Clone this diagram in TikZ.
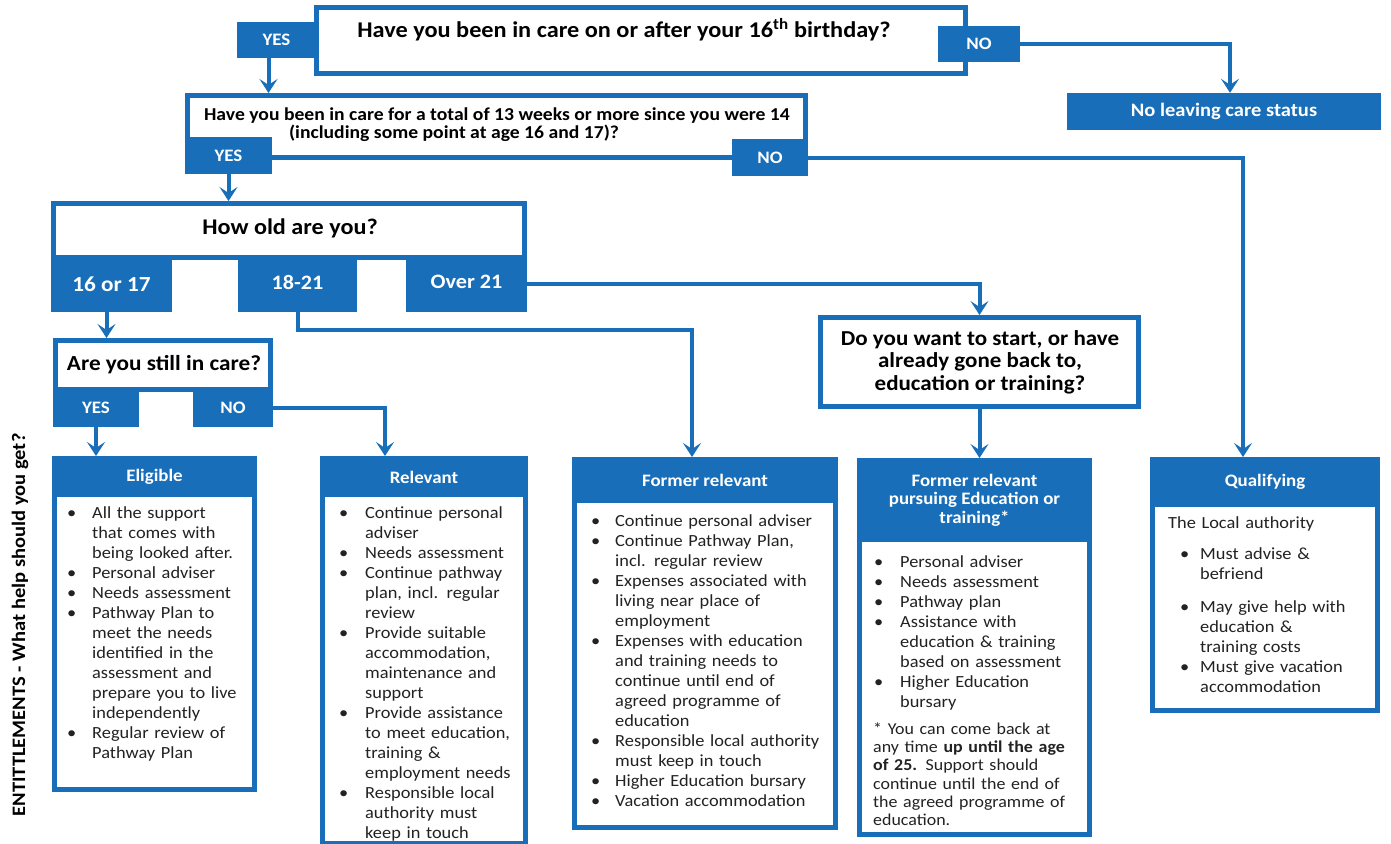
\documentclass[tikz,border=0pt]{standalone}
\usepackage{fontspec}
\setmainfont{Carlito}[FakeStretch=1.08]
\usetikzlibrary{arrows.meta,calc,fit}
\definecolor{cblue}{RGB}{24,110,184}
\definecolor{btxt}{RGB}{34,34,34}
\newlength\bulx
\newlength\txtx
\newcommand\itm[1]{\par\noindent\hangindent=\txtx\hangafter=1\makebox[\txtx][l]{\hspace{\bulx}\textbullet}\strut#1}
\tikzset{
  qbox/.style={draw=cblue, line width=5pt, fill=white, inner sep=0pt, rectangle},
  tab/.style={fill=cblue, text=white, inner sep=0pt, rectangle, font=\fontsize{17.5}{20}\selectfont\bfseries},
  agetab/.style={tab, font=\fontsize{20.5}{24}\selectfont\bfseries},
  hdr/.style={fill=cblue, text=white, inner sep=0pt, rectangle, align=center, font=\fontsize{17.5}{18.5}\selectfont\bfseries},
  conn/.style={draw=cblue, line width=4pt, -{Stealth[length=14pt,width=18pt,inset=6pt]}},
  qtext/.style={inner sep=0pt, align=center, text=black},
  body/.style={anchor=north west, inner sep=0pt, text width=260pt, align=left, text=btxt, font=\fontsize{17}{20}\selectfont},
}
\begin{document}
\begin{tikzpicture}[x=1pt,y=-1pt]
\useasboundingbox (0,0) rectangle (1391,843);
\fill[white] (0,0) rectangle (1391,843);

% ---- question 1
\node[qbox, fit={(316.5,7.5)(965.5,73.5)}] (q1) {};
\node[qtext, font=\fontsize{22.5}{26}\selectfont\bfseries] (t1) at (624,30) {Have you been in care on or after your 16\textsuperscript{th} birthday?};
\node[tab, minimum width=79pt, minimum height=36pt] (y1) at (276.5,40) {YES};
\node[tab, minimum width=82pt, minimum height=36pt] (n1) at (979,44) {NO};
\node[tab, font=\fontsize{19}{22}\selectfont\bfseries, minimum width=314pt, minimum height=37pt] (nl) at (1224,111.5) {No leaving care status};

% ---- question 2
\node[qbox, fit={(187.5,95.5)(805.5,157.5)}] (q2) {};
\node[qtext, align=left, font=\fontsize{18.2}{18}\selectfont\bfseries] (t2) at (497,125) {Have you been in care for a total of 13 weeks or more since you were 14\\\hspace*{85pt}(including some point at age 16 and 17)?};
\node[tab, minimum width=87pt, minimum height=37pt] (y2) at (228.5,155.5) {YES};
\node[tab, minimum width=76pt, minimum height=37pt] (n2) at (770,157.5) {NO};

% ---- question 3
\node[qbox, fit={(53.5,203.5)(524.5,257.5)}] (q3) {};
\node[qtext, font=\fontsize{22.4}{26}\selectfont\bfseries] (t3) at (290,228) {How old are you?};
\node[agetab, font=\fontsize{21.5}{24}\selectfont\bfseries, minimum width=121pt, minimum height=56pt] (a1) at (111.5,284) {16 or 17};
\node[agetab, minimum width=119pt, minimum height=56pt] (a2) at (297.5,284) {\raisebox{4pt}{18-21}};
\node[agetab, minimum width=121pt, minimum height=56pt] (a3) at (466.5,284) {\raisebox{4pt}{Over 21}};

% ---- question 4
\node[qbox, fit={(820.5,317.5)(1138.5,406.5)}] (q4) {};
\node[qtext, font=\fontsize{21.3}{22.5}\selectfont\bfseries] (t4) at (980,362) {Do you want to start, or have\\already gone back to,\\education or training?};

% ---- question 5
\node[qbox, fit={(55.5,340.5)(270.5,389.5)}] (q5) {};
\node[qtext, font=\fontsize{21.5}{24}\selectfont\bfseries] (t5) at (164,365) {Are you still in care?};
\node[tab, minimum width=86pt, minimum height=38pt] (b1) at (96,408) {YES};
\node[tab, minimum width=80pt, minimum height=38pt] (b2) at (233,408) {NO};

% ---- entitlement boxes
\node[qbox, fit={(54.5,458.5)(254.5,789.5)}] (p1) {};
\node[hdr, minimum width=205pt, minimum height=40pt] (h1) at (154.5,477) {Eligible};
\node[qbox, fit={(322.5,458.5)(525.5,843.5)}] (p2) {};
\node[hdr, minimum width=208pt, minimum height=40pt] (h2) at (424,477) {Relevant};
\node[qbox, fit={(574.5,459.5)(835.5,827.5)}] (p3) {};
\node[hdr, minimum width=266pt, minimum height=46pt] (h3) at (705,480) {Former relevant};
\node[qbox, fit={(859.5,460.5)(1089.5,834.5)}] (p4) {};
\node[hdr, minimum width=235pt, minimum height=84pt] (h4) at (974.5,500) {Former relevant\\pursuing Education or\\training*};
\node[qbox, fit={(1152.5,459.5)(1377.5,710.5)}] (p5) {};
\node[hdr, minimum width=230pt, minimum height=50pt] (h5) at (1265,482) {\raisebox{4pt}{Qualifying}};

\node[body] (e1) at (62,498) {\setlength\bulx{5pt}\setlength\txtx{30pt}%
\itm{All the support\newline that comes with\newline being looked after.}%
\itm{Personal adviser}%
\itm{Needs assessment}%
\itm{Pathway Plan to\newline meet the needs\newline identified in the\newline assessment and\newline prepare you to live\newline independently}%
\itm{Regular review of\newline Pathway Plan}\par};

\node[body] (e2) at (330,498) {\setlength\bulx{9pt}\setlength\txtx{35pt}%
\itm{Continue personal\newline adviser}%
\itm{Needs assessment}%
\itm{Continue pathway\newline plan, incl. regular\newline review}%
\itm{Provide suitable\newline accommodation,\newline maintenance and\newline support}%
\itm{Provide assistance\newline to meet education,\newline training \&\newline employment needs}%
\itm{Responsible local\newline authority must\newline keep in touch}\par};

\node[body] (e3) at (582,506) {\setlength\bulx{9pt}\setlength\txtx{33pt}%
\itm{Continue personal adviser}%
\itm{Continue Pathway Plan,\newline incl. regular review}%
\itm{Expenses associated with\newline living near place of\newline employment}%
\itm{Expenses with education\newline and training needs to\newline continue until end of\newline agreed programme of\newline education}%
\itm{Responsible local authority\newline must keep in touch}%
\itm{Higher Education bursary}%
\itm{Vacation accommodation}\par};

\node[body] (e4) at (866,547) {\setlength\bulx{8pt}\setlength\txtx{34pt}%
\itm{Personal adviser}%
\itm{Needs assessment}%
\itm{Pathway plan}%
\itm{Assistance with\newline education \& training\newline based on assessment}%
\itm{Higher Education\newline bursary}\par
\vspace{9pt}{\fontsize{16.6}{18.2}\selectfont\leftskip=7pt\noindent\strut * You can come back at\newline any time \textbf{up until the age}\newline \textbf{of 25.} Support should\newline continue until the end of\newline the agreed programme of\newline education.\par}};

\node[body] (e5) at (1160,514) {\setlength\bulx{20pt}\setlength\txtx{40pt}%
\noindent\hspace*{8pt}\strut The Local authority\par
\vspace{11pt}%
\itm{Must advise \&\newline befriend}\par
\vspace{13pt}%
\itm{May give help with\newline education \&\newline training costs}%
\itm{Must give vacation\newline accommodation}\par};

% ---- side label
\node[rotate=90, inner sep=0pt, text=black, font=\fontsize{19}{22}\selectfont\bfseries] (side) at (20,625) {ENTITTLEMENTS - What help should you get?};

% ---- connectors
\path (y1.south) ++(-8,0) coordinate (y1o);
\draw[conn] (y1o) -- (y1o |- q2.north);
\path (nl.north) ++(6,0) coordinate (nlin);
\draw[conn] (n1.east) -| (nlin);
\path (p5.north) ++(-22,0) coordinate (p5in);
\draw[conn] (n2.east) -| (p5in);
\draw[conn] (y2.south) -- (y2.south |- q3.north);
\draw[conn] (a3.east) -| (q4.north);
\draw[conn] (q4.south) -- (q4.south |- p4.north);
\path (p3.north) ++(-13,0) coordinate (p3in);
\draw[conn] (a2.south) -- ++(0,18) -| (p3in);
\path (a1.south) ++(-5,0) coordinate (a1o);
\draw[conn] (a1o) -- (a1o |- q5.north);
\draw[conn] (b1.south) -- (b1.south |- p1.north);
\path (p2.north) ++(-39,0) coordinate (p2in);
\draw[conn] (b2.east) -| (p2in);
\end{tikzpicture}
\end{document}
